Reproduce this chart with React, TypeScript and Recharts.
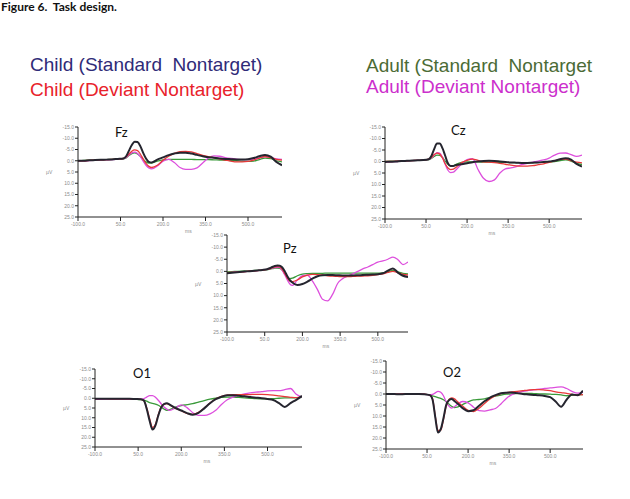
import React from 'react';
import { LineChart, Line, XAxis, YAxis } from 'recharts';

// Sample times (ms); denser around the early components.
const TIMES = [
  -100, -80, -60, -40, -20, 0, 20, 40, 60,
  70, 80, 90, 100, 110, 120, 130, 140, 150, 160,
  180, 200, 220, 240, 260, 280, 300, 320, 340, 360, 380, 400, 420, 440, 460, 480, 500, 520, 540, 560, 580, 600, 620,
];

const X_TICKS = [-100, 50, 200, 350, 500];
const Y_TICKS = [-15, -10, -5, 0, 5, 10, 15, 20, 25];

const LEGEND_LABELS = [
  'Child (Standard  Nontarget)',
  'Child (Deviant Nontarget)',
  'Adult (Standard  Nontarget',
  'Adult (Deviant Nontarget)',
];

// Fz (µV)
const FZ_CHILD_STD = [0, 0, -0.2, -0.3, -0.4, -0.5, -0.6, -0.8, -1.0, -2.0, -4.5, -7.0, -8.5, -8.3, -6.5, -3.5, -1.0, 0.5, 0.8, -0.5, -1.5, -2.5, -3.2, -3.6, -3.6, -3.2, -2.6, -2.0, -1.6, -1.3, -1.0, -0.8, -0.7, -0.6, -0.6, -0.7, -1.2, -2.0, -2.6, -1.8, 0.5, 2.0];
const FZ_CHILD_DEV = [0, 0, -0.2, -0.3, -0.4, -0.5, -0.6, -0.8, -1.0, -1.8, -3.0, -4.2, -4.8, -4.5, -3.0, -0.8, 1.2, 2.5, 3.0, 2.0, -0.2, -2.0, -3.3, -4.0, -4.2, -3.9, -3.2, -2.4, -1.8, -1.3, -0.8, -0.3, 0.2, 0.5, 0.5, 0.3, -0.3, -1.2, -1.9, -1.4, -0.6, -0.3];
const FZ_ADULT_STD = [0, -0.2, -0.3, -0.3, -0.4, -0.5, -0.6, -0.7, -0.8, -1.3, -2.3, -3.2, -3.5, -3.0, -2.0, -0.6, 0.5, 1.0, 1.0, 0.2, -0.4, -0.6, -0.6, -0.6, -0.6, -0.6, -0.5, -0.5, -0.5, -0.4, -0.3, -0.2, -0.1, 0, 0.2, 0.3, 0.2, -0.5, -1.2, -1.0, 0, 0.5];
const FZ_ADULT_DEV = [0.2, 0.1, -0.1, -0.2, -0.3, -0.4, -0.5, -0.7, -0.9, -1.5, -2.6, -3.5, -3.8, -3.2, -1.8, 0.2, 2.0, 3.2, 3.6, 2.3, 0.2, -0.6, 0.8, 3.0, 3.8, 3.8, 3.2, 1.0, -1.2, -2.2, -2.0, -1.4, -1.0, -0.7, -0.5, -0.5, -0.7, -1.2, -1.8, -1.5, -0.8, -0.6];

// Cz (µV)
const CZ_CHILD_STD = [0.2, 0.1, 0, -0.2, -0.3, -0.4, -0.5, -0.6, -1.0, -2.5, -5.5, -7.8, -7.8, -5.8, -2.5, 0.8, 2.0, 2.0, 1.5, 1.2, 0.8, 0.3, 0, -0.2, -0.3, -0.2, 0, 0.2, 0.4, 0.5, 0.6, 0.6, 0.5, 0.4, 0.2, 0, -0.3, -1.0, -1.4, -0.8, 1.0, 2.2];
const CZ_CHILD_DEV = [0, 0, -0.1, -0.2, -0.3, -0.4, -0.5, -0.6, -1.0, -1.8, -3.0, -3.6, -3.2, -1.5, 1.0, 2.8, 3.5, 3.3, 2.5, 0.5, -0.5, -1.0, -0.5, 0.2, 0.3, 0.5, 0.8, 1.2, 1.6, 1.9, 2.0, 2.0, 1.8, 1.4, 1.0, 0.4, -0.3, -0.9, -1.0, -0.4, 0.3, 0.6];
const CZ_ADULT_STD = [0, -0.1, -0.2, -0.3, -0.3, -0.4, -0.5, -0.6, -0.8, -1.4, -2.2, -2.8, -2.7, -1.8, -0.2, 1.2, 2.0, 1.8, 1.2, 0.4, 0.2, 0.2, 0.2, 0.3, 0.3, 0.4, 0.4, 0.4, 0.5, 0.5, 0.5, 0.5, 0.5, 0.4, 0.3, 0.2, 0, -0.4, -0.7, -0.2, 0.8, 1.3];
const CZ_ADULT_DEV = [0.3, 0.1, 0, -0.2, -0.3, -0.4, -0.5, -0.6, -0.9, -1.6, -2.8, -3.8, -3.6, -1.8, 1.2, 3.8, 4.8, 4.6, 3.6, 1.0, -0.8, -1.2, 3.5, 7.3, 8.7, 8.0, 5.0, 3.2, 2.8, 2.2, 1.4, 0.8, 0.3, -0.2, -0.7, -1.5, -2.8, -3.6, -3.7, -3.0, -2.2, -2.8];

// Pz (µV)
const PZ_CHILD_STD = [0.8, 0.6, 0.4, 0.2, 0, -0.2, -0.4, -0.6, -0.9, -1.3, -1.8, -2.2, -2.4, -2.3, -1.6, 0, 2.0, 3.6, 4.6, 5.6, 5.2, 4.2, 3.0, 2.0, 1.6, 1.5, 1.5, 1.6, 1.7, 1.7, 1.7, 1.6, 1.5, 1.4, 1.3, 1.2, 0.8, -0.3, -1.2, 0.5, 1.8, 2.3];
const PZ_CHILD_DEV = [0.5, 0.4, 0.3, 0.2, 0, -0.2, -0.3, -0.5, -0.8, -1.1, -1.5, -1.9, -2.0, -1.8, -0.8, 1.0, 2.8, 4.0, 4.2, 3.5, 2.3, 1.5, 1.2, 1.3, 1.5, 1.8, 2.0, 2.1, 2.2, 2.2, 2.1, 2.0, 1.9, 1.8, 1.6, 1.3, 1.0, 0.4, 0, 0.6, 1.2, 1.5];
const PZ_ADULT_STD = [0.2, 0.1, 0, -0.1, -0.2, -0.3, -0.4, -0.5, -0.7, -0.9, -1.1, -1.3, -1.4, -1.2, -0.4, 1.0, 2.3, 3.0, 2.8, 1.8, 1.1, 0.9, 0.8, 0.8, 0.8, 0.7, 0.7, 0.7, 0.7, 0.7, 0.7, 0.7, 0.7, 0.7, 0.7, 0.7, 0.6, 0.2, -0.4, 0.2, 0.8, 1.0];
const PZ_ADULT_DEV = [0.6, 0.4, 0.2, 0.1, 0, -0.2, -0.3, -0.5, -0.8, -1.0, -1.3, -1.6, -1.7, -1.5, -0.4, 1.5, 3.5, 5.2, 5.8, 3.5, 1.8, 1.6, 4.0, 7.5, 11.5, 12.2, 9.5, 5.0, 3.0, 2.0, 1.0, 0, -1.0, -1.8, -2.8, -3.8, -4.3, -5.0, -5.9, -4.8, -2.8, -3.9];

// O1 (µV)
const O1_CHILD_STD = [0.3, 0.3, 0.2, 0.2, 0.3, 0.3, 0.3, 0.4, 0.5, 1.2, 5.5, 11.5, 16.0, 14.0, 9.0, 4.8, 3.0, 2.6, 3.3, 5.0, 6.3, 7.6, 8.4, 7.5, 5.2, 2.6, 0.5, -0.8, -1.5, -1.6, -1.3, -1.0, -0.6, -0.3, 0, 0.4, 0.9, 2.5, 4.5, 2.5, 0.8, -1.2];
const O1_CHILD_DEV = [0.2, 0.2, 0.2, 0.3, 0.3, 0.3, 0.3, 0.4, 0.6, 1.3, 5.0, 10.5, 15.0, 13.5, 8.5, 4.5, 3.0, 2.8, 3.5, 5.2, 6.4, 7.8, 8.3, 7.2, 5.0, 2.5, 0.3, -1.0, -1.6, -1.8, -1.8, -1.8, -1.9, -2.0, -2.0, -1.9, -1.6, -1.2, -0.8, -0.5, -0.3, -1.0];
const O1_ADULT_STD = [0.4, 0.4, 0.3, 0.3, 0.3, 0.4, 0.4, 0.5, 0.7, 1.0, 1.5, 2.2, 2.6, 3.0, 3.6, 4.5, 5.5, 6.2, 5.8, 4.5, 3.8, 3.3, 2.8, 2.0, 1.2, 0.5, 0, -0.4, -0.6, -0.6, -0.4, -0.2, 0, 0.2, 0.3, 0.3, 0.2, 0, -0.2, -0.2, -0.3, -0.4];
const O1_ADULT_DEV = [0.5, 0.5, 0.4, 0.4, 0.4, 0.5, 0.5, 0.5, 0.5, 0.2, -0.6, -1.3, -1.3, -0.5, 1.0, 2.8, 4.5, 5.6, 6.2, 5.0, 3.4, 4.8, 7.4, 8.8, 8.8, 8.0, 6.2, 3.2, 0.8, -0.6, -1.6, -2.3, -2.8, -3.1, -3.4, -3.8, -3.9, -3.9, -4.4, -5.0, -2.0, -0.6];

// O2 (µV)
const O2_CHILD_STD = [0, 0, 0.1, 0.1, 0, 0, 0, 0.1, 0.5, 2.5, 10.5, 17.5, 16.0, 11.0, 5.0, 2.8, 2.3, 3.2, 4.2, 6.4, 7.8, 7.4, 5.3, 3.3, 1.6, 0.5, -0.3, -0.6, -0.7, -0.4, 0, 0.2, 0.4, 0.6, 0.9, 1.4, 3.4, 5.8, 2.6, 0.2, 0.6, -1.5];
const O2_CHILD_DEV = [0, 0.1, 0.1, 0, 0, 0, 0, 0.1, 0.5, 2.2, 10.0, 16.5, 16.5, 11.5, 5.5, 2.5, 1.8, 2.2, 3.3, 5.5, 7.4, 8.0, 6.5, 4.3, 2.3, 0.8, -0.2, -0.6, -0.9, -1.2, -1.5, -1.8, -2.0, -2.0, -1.8, -1.5, -1.0, -0.6, -0.3, 0.2, 0.5, 0.3];
const O2_ADULT_STD = [0, 0.1, 0.1, 0.1, 0.1, 0.1, 0.1, 0.2, 0.5, 0.8, 1.2, 1.6, 2.0, 2.6, 3.5, 4.6, 5.6, 6.2, 6.0, 4.8, 3.6, 2.7, 2.5, 2.2, 1.6, 1.0, 0.5, 0.1, -0.1, -0.2, -0.3, -0.3, -0.2, -0.1, 0, 0.1, 0.2, 0.4, 0.8, 0.6, 0.3, 0.3];
const O2_ADULT_DEV = [0.2, 0.2, 0.1, 0.1, 0, 0, 0, 0.1, 0.4, 0.2, -0.5, -1.2, -0.8, 0.8, 3.5, 5.5, 6.4, 5.8, 4.8, 3.4, 4.0, 6.0, 7.6, 7.8, 7.2, 6.6, 4.5, 2.0, 0.3, -0.6, -1.2, -1.6, -1.9, -2.2, -2.5, -2.8, -3.0, -3.2, -2.5, -1.2, -0.4, -0.8];

const COLORS = {
  childStd: '#25252f',
  childDev: '#e8383a',
  adultStd: '#3a9a3a',
  adultDev: '#dd4fdd',
};
const LEGEND_COLORS = ['#2f2b78', '#e8222b', '#4b6b35', '#cc2fcc'];

type PanelSpec = {
  name: string;
  x0: number;
  y0: number;
  w: number;
  h: number;
  lx: number;
  ly: number;
  series: number[][];
};

const PANELS: PanelSpec[] = [
  { name: 'Fz', x0: 78, y0: 127, w: 204, h: 90, lx: 37, ly: 10, series: [FZ_CHILD_STD, FZ_CHILD_DEV, FZ_ADULT_STD, FZ_ADULT_DEV] },
  { name: 'Cz', x0: 385, y0: 127, w: 197, h: 92, lx: 66, ly: 8, series: [CZ_CHILD_STD, CZ_CHILD_DEV, CZ_ADULT_STD, CZ_ADULT_DEV] },
  { name: 'Pz', x0: 227, y0: 235, w: 181, h: 97, lx: 56, ly: 18, series: [PZ_CHILD_STD, PZ_CHILD_DEV, PZ_ADULT_STD, PZ_ADULT_DEV] },
  { name: 'O1', x0: 95, y0: 369, w: 207, h: 78, lx: 38, ly: 9, series: [O1_CHILD_STD, O1_CHILD_DEV, O1_ADULT_STD, O1_ADULT_DEV] },
  { name: 'O2', x0: 386, y0: 361, w: 197, h: 88, lx: 57, ly: 16, series: [O2_CHILD_STD, O2_CHILD_DEV, O2_ADULT_STD, O2_ADULT_DEV] },
];

const Y_W = 26;
const X_H = 12;
const MT = 4;
const MR = 4;
const TICK_FONT = { fontSize: 5, fill: '#8d8d8d', fontFamily: 'Liberation Sans, Arial, sans-serif' };

function Panel({ spec }: { spec: PanelSpec }) {
  const [cs, cd, as, ad] = spec.series;
  const rows = TIMES.map((t, i) => ({ t, cs: cs[i], cd: cd[i], as: as[i], ad: ad[i] }));
  return (
    <div style={{ position: 'absolute', left: spec.x0 - Y_W, top: spec.y0 - MT }}>
      <LineChart
        width={spec.w + Y_W + MR}
        height={spec.h + MT + X_H}
        data={rows}
        margin={{ top: MT, right: MR, left: 0, bottom: 0 }}
      >
        <XAxis
          dataKey="t"
          type="number"
          domain={[-100, 620]}
          ticks={X_TICKS}
          interval={0}
          tickFormatter={(v: number) => v.toFixed(1)}
          height={X_H}
          tick={TICK_FONT}
          tickSize={4}
          tickMargin={1}
          axisLine={{ stroke: '#222', strokeWidth: 1 }}
          tickLine={{ stroke: '#222', strokeWidth: 1 }}
          allowDataOverflow
        />
        <YAxis
          type="number"
          domain={[-15, 25]}
          reversed
          ticks={Y_TICKS}
          interval={0}
          tickFormatter={(v: number) => v.toFixed(1)}
          width={Y_W}
          tick={TICK_FONT}
          tickSize={3}
          tickMargin={1}
          axisLine={{ stroke: '#222', strokeWidth: 1 }}
          tickLine={{ stroke: '#222', strokeWidth: 1 }}
          allowDataOverflow
        />
        <Line type="monotone" dataKey="as" stroke={COLORS.adultStd} strokeWidth={1.3} dot={false} isAnimationActive={false} />
        <Line type="monotone" dataKey="ad" stroke={COLORS.adultDev} strokeWidth={1.3} dot={false} isAnimationActive={false} />
        <Line type="monotone" dataKey="cd" stroke={COLORS.childDev} strokeWidth={1.3} dot={false} isAnimationActive={false} />
        <Line type="monotone" dataKey="cs" stroke={COLORS.childStd} strokeWidth={2} dot={false} isAnimationActive={false} />
      </LineChart>
    </div>
  );
}

export default function App() {
  const legendFont = 'Liberation Sans, Arial, sans-serif';
  return (
    <div style={{ position: 'absolute', left: 0, top: 0, width: 630, height: 499, background: '#fff', overflow: 'hidden' }}>
      {PANELS.map((p) => (
        <Panel key={p.name} spec={p} />
      ))}
      <svg width={630} height={499} style={{ position: 'absolute', left: 0, top: 0, pointerEvents: 'none' }}>
        <text x={1} y={11} fontFamily="Lato, sans-serif" fontWeight="bold" fontSize={12} fill="#111" style={{ whiteSpace: 'pre' }}>
          Figure 6.  Task design.
        </text>
        <text x={30} y={70.5} fontFamily={legendFont} fontSize={19} fill={LEGEND_COLORS[0]} style={{ whiteSpace: 'pre' }}>
          {LEGEND_LABELS[0]}
        </text>
        <text x={30} y={95.5} fontFamily={legendFont} fontSize={19} fill={LEGEND_COLORS[1]} style={{ whiteSpace: 'pre' }}>
          {LEGEND_LABELS[1]}
        </text>
        <text x={366} y={71.5} fontFamily={legendFont} fontSize={19} fill={LEGEND_COLORS[2]} style={{ whiteSpace: 'pre' }}>
          {LEGEND_LABELS[2]}
        </text>
        <text x={366} y={93} fontFamily={legendFont} fontSize={19} fill={LEGEND_COLORS[3]} style={{ whiteSpace: 'pre' }}>
          {LEGEND_LABELS[3]}
        </text>
        {PANELS.map((p) => (
          <g key={p.name}>
            <text x={p.x0 + p.lx} y={p.y0 + p.ly} fontFamily="Lato, sans-serif" fontSize={13} fill="#111">
              {p.name}
            </text>
            <text x={p.x0 - 32} y={p.y0 + (p.h * 20) / 40 + 2} fontFamily={legendFont} fontSize={5} fill="#8d8d8d">
              µV
            </text>
            <text x={p.x0 + p.w / 2 + 5} y={p.y0 + p.h + 16} fontFamily={legendFont} fontSize={5} fill="#8d8d8d">
              ms
            </text>
          </g>
        ))}
      </svg>
    </div>
  );
}
